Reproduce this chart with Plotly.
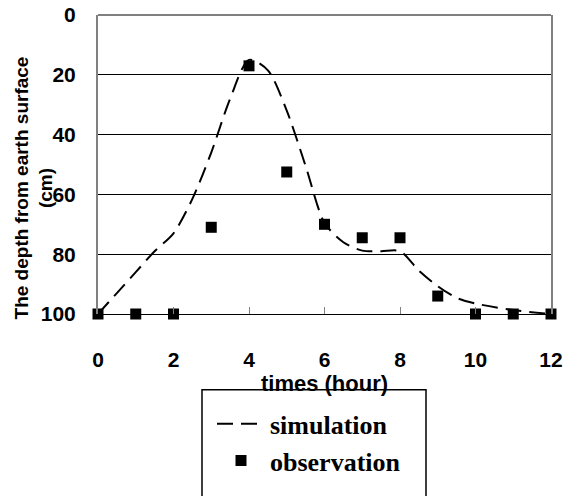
import plotly.graph_objects as go

# Observation data
obs_hours = [0, 1, 2, 3, 4, 5, 6, 7, 8, 9, 10, 11, 12]
obs_depth = [100, 100, 100, 71, 17, 52.5, 70, 74.5, 74.5, 94, 100, 100, 100]

# Simulation curve
sim_hours = [0, 0.5, 1, 1.5, 2, 2.5, 3, 3.5, 4, 4.5, 5, 5.5, 6, 6.5, 7, 7.5, 8, 8.5, 9, 9.5, 10, 11, 12]
sim_depth = [100, 93, 86, 79, 73, 61.5, 46, 28, 15, 18.5, 32, 50.5, 69.5, 76, 78.8, 79, 79, 85.5, 90.7, 94.6, 96.5, 98.7, 100]

x_ticks = [0, 2, 4, 6, 8, 10, 12]
y_ticks = [0, 20, 40, 60, 80, 100]

W, H = 564, 496
L, R, T, B = 98, 13, 15, 169
PW, PH = W - L - R, H - T - B
PLOT_LEFT, PLOT_BOTTOM = L, H - B  # page coordinates (body margin removed)


def px_x(p):
    return (p - PLOT_LEFT) / PW


def px_y(p):
    return (PLOT_BOTTOM - p) / PH


SANS = "Liberation Sans, Arial, sans-serif"
SERIF = "Liberation Serif, Times New Roman, serif"

fig = go.Figure()
fig.add_trace(go.Scatter(
    x=sim_hours, y=sim_depth, mode="lines", name="simulation",
    line=dict(color="black", width=2, dash="16px,8px", shape="spline", smoothing=0.8),
    cliponaxis=False,
))
fig.add_trace(go.Scatter(
    x=obs_hours, y=obs_depth, mode="markers", name="observation",
    marker=dict(symbol="square", size=11, color="black"),
    cliponaxis=False,
))

fig.update_layout(
    width=W, height=H,
    margin=dict(l=L, r=R, t=T, b=B, pad=0),
    paper_bgcolor="white", plot_bgcolor="white",
    showlegend=True,
    legend=dict(
        x=px_x(212), y=px_y(417), xanchor="left", yanchor="top",
        bgcolor="rgba(0,0,0,0)", borderwidth=0,
        font=dict(family=SERIF, size=26, color="black", weight="bold"),
        itemwidth=48,
    ),
    xaxis=dict(
        range=[0, 12], tickvals=x_ticks, ticktext=[str(v) for v in x_ticks],
        showgrid=False, zeroline=False,
        showline=True, linecolor="black", linewidth=1,
        ticks="inside", ticklen=7, tickcolor="#808080", tickwidth=1,
        tickfont=dict(family=SANS, size=21, color="black", weight="bold"),
        ticklabelstandoff=27, ticklabeloverflow="allow",
        title=dict(text="times (hour)", standoff=0,
                   font=dict(family=SANS, size=22, color="black", weight="bold")),
        automargin=False,
    ),
    yaxis=dict(
        range=[100, 0], tickvals=y_ticks, ticktext=[str(v) for v in y_ticks],
        showgrid=True, gridcolor="black", gridwidth=1, zeroline=False,
        showline=True, linecolor="#808080", linewidth=2, mirror=True,
        ticks="", ticklabelstandoff=16, ticklabeloverflow="allow",
        tickfont=dict(family=SANS, size=21, color="black", weight="bold"),
        automargin=False,
    ),
    shapes=[
        dict(type="line", xref="paper", yref="paper", x0=0, x1=1, y0=1, y1=1,
             line=dict(color="#808080", width=2), layer="above"),
        dict(type="rect", xref="paper", yref="paper",
             x0=px_x(202), x1=px_x(426), y0=px_y(406), y1=px_y(530),
             line=dict(color="black", width=1.5), fillcolor="rgba(0,0,0,0)"),
    ],
    annotations=[
        dict(text="The depth from earth surface<br>(cm)", textangle=-90,
             xref="paper", yref="paper", x=px_x(34), y=px_y(196),
             xanchor="center", yanchor="middle", showarrow=False,
             font=dict(family=SANS, size=19, color="black", weight="bold")),
    ],
)

fig.write_html(
    "out.html",
    config={"displayModeBar": False},
    post_script="document.body.style.margin='0px';",
)
